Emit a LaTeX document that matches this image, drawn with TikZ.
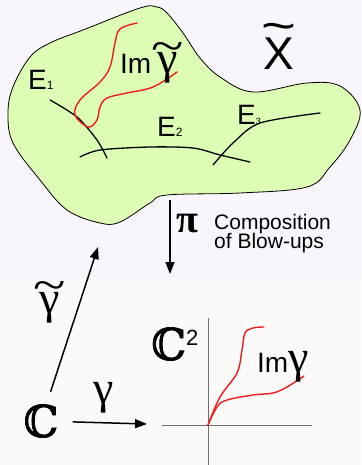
\documentclass[tikz,border=0pt]{standalone}
\usepackage{amssymb}
\usepackage{graphicx}
\usepackage{fontspec}
\setmainfont{Liberation Sans}
\newfontfamily\greekfont{Liberation Serif}
\newfontfamily\dsfont[FakeBold=1.6]{DejaVu Serif}
\usepackage{xcolor}
\usepackage{tikz}
\usetikzlibrary{arrows.meta,positioning}

\definecolor{blobgreen}{RGB}{221,252,180}
\definecolor{bgtop}{RGB}{248,246,252}
\definecolor{bgbot}{RGB}{252,249,249}
\definecolor{curvered}{RGB}{236,30,30}
\definecolor{axisgray}{RGB}{110,110,110}

% tilde put on top of a letter
\newcommand{\wavy}[2][0pt]{\leavevmode\vbox{\offinterlineskip
  \halign{\hfil##\hfil\cr\scalebox{1.3}[1]{\textasciitilde}\cr\noalign{\kern#1}#2\cr}}}
\newcommand{\fsz}[1]{\fontsize{#1}{#1}\selectfont}

\begin{document}
\begin{tikzpicture}[x=1pt,y=-1pt,>=Latex,
    maparrow/.style={-{Triangle[length=12pt,width=9pt]},line width=1.5pt},
    divisor/.style={line width=1.3pt,line cap=round},
    imcurve/.style={curvered,line width=1.4pt,line cap=round}]
  \useasboundingbox (0,0) rectangle (361,465);
  \fill[bgtop] (0,0) rectangle (361,278);
  \fill[bgbot] (0,278) rectangle (361,465);

  % the blown-up surface
  \draw[fill=blobgreen,line width=0.8pt] plot[smooth cycle,tension=0.6] coordinates {
    (8,113) (13,87) (30,57) (50,43) (83,30) (140,8) (157,7) (167,13)
    (183,33) (200,58) (220,77) (253,92) (307,83) (340,86) (360,110)
    (350,140) (330,167) (307,187) (240,193) (167,195) (150,203)
    (120,222) (100,223) (67,210) (40,180) (13,143)};

  % exceptional curves
  \draw[divisor] plot[smooth] coordinates {(50,100) (77,117) (97,140) (107,158)};
  \draw[divisor] plot[smooth] coordinates {(80,157) (100,150) (150,147) (193,148) (220,155) (250,162)};
  \draw[divisor] plot[smooth] coordinates {(213,165) (233,143) (260,123) (320,113)};
  \node[anchor=base west,inner sep=0pt,font=\fsz{28}] (e1) at (28,90) {E{\fsz{12}1}};
  \node[anchor=base west,inner sep=0pt,font=\fsz{28}] (e2) at (157,137) {E{\fsz{12}2}};
  \node[anchor=base west,inner sep=0pt,font=\fsz{28}] (e3) at (237,125) {E{\fsz{9}3}};

  % lifted curve
  \draw[imcurve] plot[smooth,tension=0.6] coordinates {
    (137,23) (120,29) (115,43) (110,67) (100,82) (80,100) (75,115)
    (88,127) (97,120) (100,107) (107,98) (127,93) (153,87) (177,72)};
  \node[anchor=base west,inner sep=0pt,font=\fsz{28}] (imlift) at (120,74)
    {Im{\greekfont\fsz{46}\wavy[-9pt]{γ}}};

  \node[anchor=base,inner sep=0pt,font=\fsz{46}] (xtilde) at (279,70) {\wavy[-3pt]{X}};

  % blow-down map
  \coordinate (pitop) at (170,200);
  \coordinate (pibot) at (170,274);
  \draw[maparrow] (pitop) -- (pibot);
  \node[anchor=base west,inner sep=0pt,font=\greekfont\bfseries\fsz{40}] (pi) at (176,232) {π};
  \node[anchor=north west,inner sep=0pt,align=left,font=\fsz{21}] (comp) at (214,214)
    {Composition\\[-2pt]of Blow-ups};

  % the line and its maps
  \node[inner sep=2pt,font=\dsfont\fsz{44}] (cc) at (41,421) {ℂ};
  \coordinate (gtip) at (147,424);
  \coordinate (gttip) at (98,247);
  \draw[maparrow,shorten <=12pt] (cc) -- (gtip);
  \draw[maparrow,shorten <=11pt] (cc) -- (gttip);
  \node[anchor=base,inner sep=0pt,font=\greekfont\fsz{46}] (gam) at (104,403) {γ};
  \node[anchor=base,inner sep=0pt,font=\greekfont\fsz{46}] (gamt) at (50,313) {\wavy[-9pt]{γ}};

  % the plane
  \coordinate (orig) at (208,425);
  \draw[axisgray,line width=0.8pt] (162,425) -- (312,425);
  \draw[axisgray,line width=0.8pt] (208,318) -- (208,465);
  \node[anchor=base west,inner sep=0pt,font=\fsz{44}] (c2) at (151,360)
    {{\dsfont ℂ}\raisebox{15pt}{\fsz{22}2}};
  \draw[imcurve] plot[smooth,tension=0.6] coordinates {
    (orig) (220,397) (237,373) (242,350) (245,333) (253,328) (264,327)};
  \draw[imcurve] plot[smooth,tension=0.6] coordinates {
    (orig) (217,407) (227,400) (253,395) (273,393) (287,387) (304,376)};
  \node[anchor=base west,inner sep=0pt,font=\fsz{28}] (imgam) at (257,372)
    {Im{\greekfont\fsz{46}γ}};
\end{tikzpicture}
\end{document}
